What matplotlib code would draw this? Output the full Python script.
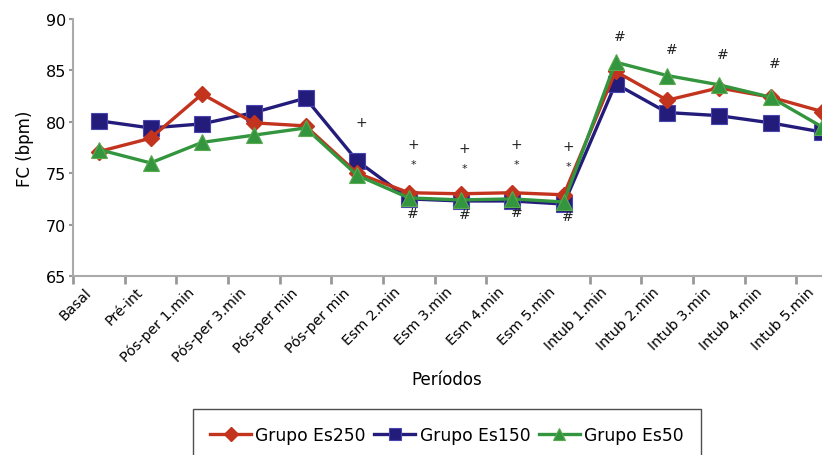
import matplotlib
matplotlib.use("Agg")
import matplotlib.pyplot as plt
import matplotlib.transforms as mtransforms
import numpy as np

categories = ["Basal", "Pré-int", "Pós-per 1.min", "Pós-per 3.min", "Pós-per min",
              "Pós-per min", "Esm 2.min", "Esm 3.min", "Esm 4.min", "Esm 5.min",
              "Intub 1.min", "Intub 2.min", "Intub 3.min", "Intub 4.min", "Intub 5.min"]
es250 = [77.1, 78.4, 82.7, 79.9, 79.6, 75.0, 73.1, 73.0, 73.1, 72.9, 84.9, 82.1, 83.3, 82.4, 81.0]
es150 = [80.1, 79.4, 79.8, 80.9, 82.3, 76.2, 72.5, 72.3, 72.3, 72.0, 83.7, 80.9, 80.6, 79.9, 79.0]
es50  = [77.3, 76.0, 78.0, 78.7, 79.4, 74.8, 72.6, 72.4, 72.5, 72.2, 85.8, 84.5, 83.6, 82.4, 79.5]

# significance annotations: (category index, symbol, y value)
annot_idx = [5, 6, 6, 6, 7, 7, 7, 8, 8, 8, 9, 9, 9, 10, 11, 12, 13]
annot_sym = ["+", "+", "*", "#", "+", "*", "#", "+", "*", "#", "+", "*", "#", "#", "#", "#", "#"]
annot_y   = [80.0, 77.8, 75.9, 71.1, 77.5, 75.5, 71.0, 77.8, 75.9, 71.2, 77.6, 75.7, 70.8,
             88.3, 87.1, 86.6, 85.7]

fig = plt.figure(figsize=(8.22, 4.56), dpi=100)
ax = fig.add_axes([73/822, 1-277/456, 775/822, 257/456])

x = np.arange(len(categories))
red, blue, green = "#C2341E", "#241C7A", "#33953D"
ax.plot(x, es250, color=red, lw=2.4, marker="D", ms=8.5, mfc=red, mec=red, label="Grupo Es250", zorder=3)
ax.plot(x, es150, color=blue, lw=2.4, marker="s", ms=11, mfc=blue, mec="#4a46b0", mew=0.8, label="Grupo Es150", zorder=2)
ax.plot(x, es50, color=green, lw=2.4, marker="^", ms=11, mfc=green, mec="#5aaa50", mew=0.8, label="Grupo Es50", zorder=4)

for i, s, yv in zip(annot_idx, annot_sym, annot_y):
    ax.text(i + 0.08, yv, s, ha="center", va="center", fontsize=10 if s != "*" else 8, color="#222222")

ax.set_xlim(-0.5, len(categories) - 0.5)
ax.set_ylim(65, 90)
ax.set_yticks([65, 70, 75, 80, 85, 90])
ax.tick_params(axis="y", labelsize=11.5, length=3, color="#999999", width=1.5, pad=2)
ax.set_xticks(x)
ax.set_xticklabels(categories, rotation=45, ha="right", rotation_mode="anchor", fontsize=10.3)
ax.tick_params(axis="x", which="major", length=0, pad=4)
offset = mtransforms.ScaledTranslation(-15/100, -3/100, fig.dpi_scale_trans)
for lab in ax.get_xticklabels():
    lab.set_transform(lab.get_transform() + offset)
bounds = [b for b in np.arange(-0.5, len(categories) - 0.5, 1.0) if abs(b - 8.5) > 0.01]
ax.set_xticks(bounds, minor=True)
ax.tick_params(axis="x", which="minor", length=6, color="#999999", width=2)

for sp in ["top", "right"]:
    ax.spines[sp].set_visible(False)
for sp in ["left", "bottom"]:
    ax.spines[sp].set_color("#aaaaaa")
    ax.spines[sp].set_linewidth(1.5)

ax.set_ylabel("FC (bpm)", fontsize=12)
ax.yaxis.set_label_coords((34-73)/775, 0.5)
ax.set_xlabel("Períodos", fontsize=12)
ax.xaxis.set_label_coords((447-73)/775, (277-380)/257)
ax.xaxis.label.set_va("center")

leg = fig.legend(loc="upper center", bbox_to_anchor=(447/822, 1-410/456), ncol=3, fontsize=12.3,
                 frameon=True, fancybox=False, edgecolor="#222222", handlelength=2.4,
                 handletextpad=0.25, columnspacing=0.5, borderpad=1.0, borderaxespad=0,
                 markerscale=0.8)
leg.get_frame().set_linewidth(1.0)

fig.savefig("out.png", dpi=100)
